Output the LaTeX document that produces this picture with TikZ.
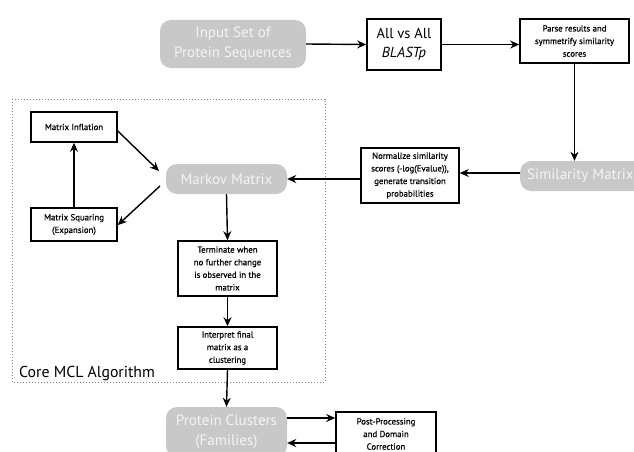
\documentclass[tikz,border=0pt]{standalone}
\usepackage{fontspec}
\setmainfont{PT Sans}
\newfontfamily\boxfont[FakeBold=0.6]{PT Sans}
\usetikzlibrary{arrows.meta}
\definecolor{pill}{HTML}{C8C8C8}
\definecolor{pilltext}{HTML}{F4F4F4}
\begin{document}
\begin{tikzpicture}[x=1pt,y=-1pt,
  pillnode/.style={fill=pill,rounded corners=11pt,text=pilltext,align=center,inner sep=0pt,font=\fontsize{15}{20}\selectfont},
  boxnode/.style={draw=black,line width=1.6pt,fill=white,align=center,inner sep=0pt,font=\boxfont\fontsize{8.8}{12.6}\selectfont},
  arr/.style={line width=1.4pt,-{Stealth[length=9pt,width=8pt]}}]
\useasboundingbox (0,0) rectangle (634,452);
\fill[white] (0,0) rectangle (634,452);
% dotted frame
\draw[gray,dotted,line width=1pt] (12,99) rectangle (325,382);
\node[anchor=base west,inner sep=0pt,font=\fontsize{15.8}{17}\selectfont] (core) at (19,377) {Core MCL Algorithm};
% nodes
\node[pillnode,minimum width=146pt,minimum height=48pt] (input) at (233,44) {Input Set of\\Protein Sequences};
\node[boxnode,minimum width=74pt,minimum height=51pt,font=\fontsize{14.5}{19}\selectfont] (blast) at (404,44.5) {All vs All\\\textit{BLASTp}};
\node[boxnode,minimum width=109pt,minimum height=44pt] (parse) at (574.5,41) {Parse results and\\symmetrify similarity\\scores};
\node[pillnode,minimum width=140pt,minimum height=30pt,anchor=west,align=left,inner xsep=7pt] (sim) at (520,176) {Similarity Matrix\hspace{20pt}};
\node[boxnode,minimum width=98pt,minimum height=55pt] (norm) at (410,175.5) {Normalize similarity\\scores (-log(Evalue)),\\generate transition\\probabilities};
\node[pillnode,minimum width=121pt,minimum height=30pt] (markov) at (226.5,179) {Markov Matrix};
\node[boxnode,minimum width=86pt,minimum height=30pt] (infl) at (74,127) {Matrix Inflation};
\node[boxnode,minimum width=86pt,minimum height=33pt] (sq) at (74,224.5) {Matrix Squaring\\(Expansion)};
\node[boxnode,minimum width=99pt,minimum height=55pt] (term) at (227.5,268.5) {Terminate when\\no further change\\is observed in the\\matrix};
\node[boxnode,minimum width=99pt,minimum height=42pt] (interp) at (227.5,348) {Interpret final\\matrix as a\\clustering};
\node[pillnode,minimum width=121pt,minimum height=50pt] (clus) at (226.5,432) {Protein Clusters\\(Families)};
\node[boxnode,minimum width=100pt,minimum height=44pt] (post) at (386,434) {Post-Processing\\and Domain\\Correction};
% free ends
\coordinate (mkin) at (159,171);
\coordinate (mkout) at (160,186);
% connectors
\draw[arr] (input.east) -- (blast.west);
\draw[arr] (blast.east) -- (blast.east -| parse.west);
\draw[arr] (parse.south) -- (parse.south |- sim.north);
\draw[arr] (sim.west |- 0,173) -- (norm.east |- 0,173);
\draw[arr] (norm.west |- 0,179) -- (markov.east |- 0,179);
\draw[arr] (markov.south) -- (term.north);
\draw[arr] (term.south) -- (interp.north);
\draw[arr] (interp.south) -- (clus.north);
\draw[arr] (sq.north) -- (infl.south);
\draw[arr] (infl.east |- 0,131) -- (mkin);
\draw[arr] (mkout) -- (sq.east |- 0,225);
\draw[arr] (clus.east |- 0,418) -- (post.west |- 0,418);
\draw[arr] (post.west |- 0,443) -- (clus.east |- 0,443);
\end{tikzpicture}
\end{document}
